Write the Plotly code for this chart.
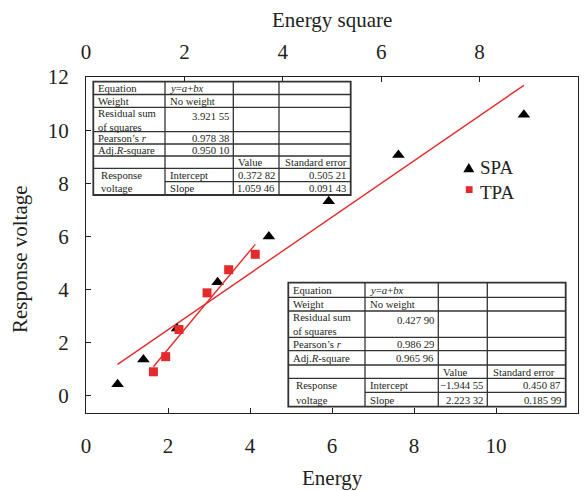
import plotly.graph_objects as go

# ---------------- data ----------------
spa_energy = [0.77, 1.40, 2.22, 3.21, 4.46, 5.92, 7.62, 10.68]
spa_voltage = [0.44, 1.37, 2.54, 4.28, 6.00, 7.33, 9.07, 10.58]

tpa_energy_square = [1.37, 1.62, 1.89, 2.46, 2.90, 3.44]
tpa_voltage = [0.91, 1.48, 2.50, 3.88, 4.75, 5.33]

spa_fit = {"intercept": 0.37282, "slope": 1.05946}
tpa_fit = {"intercept": -1.94455, "slope": 2.22332}

spa_stats = ["3.921 55", "0.978 38", "0.950 10", "0.372 82", "0.505 21", "1.059 46", "0.091 43"]
tpa_stats = ["0.427 90", "0.986 29", "0.965 96", "\u22121.944 55", "0.450 87", "2.223 32", "0.185 99"]

series_names = ["SPA", "TPA"]

x_ticks = [0, 2, 4, 6, 8, 10, 12]
x2_ticks = [0, 2, 4, 6, 8, 10]
y_ticks = [0, 2, 4, 6, 8, 10, 12]

# ---------------- style ----------------
FONT = "Liberation Serif"
INK = "#231f20"
RED = "#e32b2b"
W, H = 588, 491
L, R, T, B = 86, 578, 77, 413


def px(x):
    return (x - L) / (R - L)


def py(y):
    return (B - y) / (B - T)


fig = go.Figure()

# fit lines (from table coefficients, over the data range)
sx = [min(spa_energy), max(spa_energy)]
fig.add_trace(go.Scatter(
    x=sx, y=[spa_fit["intercept"] + spa_fit["slope"] * v for v in sx],
    mode="lines", line=dict(color=RED, width=1.4), showlegend=False, hoverinfo="skip"))
tx = [min(tpa_energy_square), max(tpa_energy_square)]
fig.add_trace(go.Scatter(
    x=tx, y=[tpa_fit["intercept"] + tpa_fit["slope"] * v for v in tx],
    xaxis="x2", yaxis="y",
    mode="lines", line=dict(color=RED, width=1.4), showlegend=False, hoverinfo="skip"))

fig.add_trace(go.Scatter(
    x=spa_energy, y=spa_voltage, mode="markers", name=series_names[0], showlegend=False,
    marker=dict(symbol="triangle-up", size=11, color="black")))
fig.add_trace(go.Scatter(
    x=tpa_energy_square, y=tpa_voltage, mode="markers", name=series_names[1], showlegend=False,
    xaxis="x2", yaxis="y",
    marker=dict(symbol="square", size=9, color=RED)))

# ---------------- tables ----------------
shapes = []
annotations = []


def add_table(cols, rows, stats, fs=10.7):
    lw = 1.3
    shapes.append(dict(type="rect", xref="paper", yref="paper",
                       x0=px(cols[0]), x1=px(cols[-1]), y0=py(rows[0]), y1=py(rows[-1]),
                       fillcolor="white", line=dict(color="#333333", width=1.8), layer="above"))
    for c in cols[1:-1]:
        shapes.append(dict(type="line", xref="paper", yref="paper",
                           x0=px(c), x1=px(c), y0=py(rows[0]), y1=py(rows[-1]),
                           line=dict(color="#333333", width=lw), layer="above"))
    for i, r in enumerate(rows[1:-1], start=1):
        start = cols[1] if i == 7 else cols[0]
        shapes.append(dict(type="line", xref="paper", yref="paper",
                           x0=px(start), x1=px(cols[-1]), y0=py(r), y1=py(r),
                           line=dict(color="#333333", width=lw), layer="above"))

    def text(t, x, y, xa="left", ya="middle"):
        annotations.append(dict(text=t, x=px(x), y=py(y), xref="paper", yref="paper",
                                xanchor=xa, yanchor=ya, showarrow=False, align="left",
                                font=dict(family=FONT, size=fs, color=INK)))

    def mid(i):
        return (rows[i] + rows[i + 1]) / 2

    pad = 2.5
    text("Equation", cols[0] + pad, mid(0))
    text("<i>y</i>=<i>a</i>+<i>bx</i>", cols[1] + pad, mid(0))
    text("Weight", cols[0] + pad, mid(1))
    text("No weight", cols[1] + pad, mid(1))
    text("Residual sum<br>of squares", cols[0] + pad, mid(2))
    text(stats[0], cols[2] - pad, rows[2] + 1, xa="right", ya="top")
    text("Pearson\u2019s <i>r</i>", cols[0] + pad, mid(3))
    text(stats[1], cols[2] - pad, mid(3), xa="right")
    text("Adj.<i>R</i>-square", cols[0] + pad, mid(4))
    text(stats[2], cols[2] - pad, mid(4), xa="right")
    text("Value", cols[2] + pad, mid(5))
    text("Standard error", cols[3] + pad + 1, mid(5))
    text("Response", cols[0] + 6, mid(6))
    text("voltage", cols[0] + 6, mid(7))
    text("Intercept", cols[1] + pad, mid(6))
    text("Slope", cols[1] + pad, mid(7))
    text(stats[3], cols[3] - pad, mid(6), xa="right")
    text(stats[4], cols[4] - pad, mid(6), xa="right")
    text(stats[5], cols[3] - pad, mid(7), xa="right")
    text(stats[6], cols[4] - pad, mid(7), xa="right")


add_table([93.3, 165, 233.3, 279, 350.7],
          [81.7, 94.5, 107.3, 131.7, 144, 156, 168.3, 181.7, 195], spa_stats)
add_table([288.3, 365, 438.3, 487.3, 565.7],
          [282.7, 297.3, 311, 337.3, 350.7, 365, 378.3, 392.3, 406.7], tpa_stats)

# ---------------- legend (drawn) ----------------
leg_font = dict(family=FONT, size=19, color=INK)
cx, cy = 468.8, 168.5
shapes.append(dict(type="path", xref="paper", yref="paper", layer="above",
                   path=f"M {px(cx - 5.5)} {py(cy + 3.8)} L {px(cx + 5.5)} {py(cy + 3.8)} "
                        f"L {px(cx)} {py(cy - 5.5)} Z",
                   fillcolor="black", line=dict(width=0)))
cx, cy = 469.2, 189.6
shapes.append(dict(type="rect", xref="paper", yref="paper", layer="above",
                   x0=px(cx - 3.4), x1=px(cx + 3.4), y0=py(cy + 3.4), y1=py(cy - 3.4),
                   fillcolor=RED, line=dict(width=0)))
annotations.append(dict(text="<br>".join(series_names), x=px(477.5), y=py(179.5),
                        xref="paper", yref="paper", align="left",
                        xanchor="left", yanchor="middle", showarrow=False, font=leg_font))

# axis titles
title_font = dict(family=FONT, size=21, color=INK)
annotations.append(dict(text="Energy square", x=px(332), y=py(20), xref="paper", yref="paper",
                        xanchor="center", yanchor="middle", showarrow=False, font=title_font))
annotations.append(dict(text="Energy", x=px(332), y=py(478), xref="paper", yref="paper",
                        xanchor="center", yanchor="middle", showarrow=False, font=title_font))
annotations.append(dict(text="Response voltage", x=px(20), y=py(259), xref="paper", yref="paper",
                        xanchor="center", yanchor="middle", showarrow=False, textangle=-90,
                        font=title_font))

tick_font = dict(family=FONT, size=21, color=INK)
axis_common = dict(showgrid=False, zeroline=False, showline=True, linecolor=INK, linewidth=1.3,
                   ticks="inside", ticklen=5, tickwidth=1.2, tickcolor=INK, tickfont=tick_font)

fig.update_layout(
    width=W, height=H,
    margin=dict(l=L, r=W - R, t=T, b=H - B, pad=0),
    paper_bgcolor="white", plot_bgcolor="white",
    font=dict(family=FONT, color=INK),
    showlegend=False,
    xaxis=dict(range=[0, 12], tickvals=x_ticks, ticklabelstandoff=14, **axis_common),
    xaxis2=dict(range=[0, 10], tickvals=x2_ticks, overlaying="x", side="top", anchor="y",
                ticklabelstandoff=8, **axis_common),
    yaxis=dict(range=[-0.64, 12], tickvals=y_ticks, mirror=True, ticklabelstandoff=12,
               **axis_common),
    shapes=shapes,
    annotations=annotations,
)

fig.write_html("out.html", config={"displayModeBar": False},
               post_script="document.body.style.margin='0';")
